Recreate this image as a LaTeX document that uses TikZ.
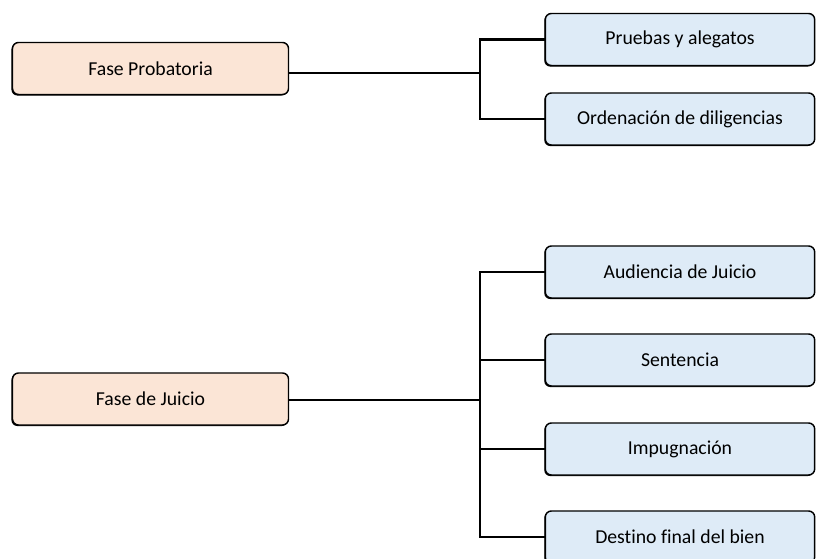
\documentclass[tikz,border=0pt]{standalone}
\usepackage{fontspec}
\setmainfont{Carlito}[Ligatures=NoCommon]
\usepackage{tikz}
\usetikzlibrary{shadows}

\definecolor{fasefill}{HTML}{FBE5D6}
\definecolor{itemfill}{HTML}{DEEBF7}

\tikzset{
  fase/.style={draw, line width=1.1pt, rounded corners=4.5pt, fill=fasefill,
    minimum width=207pt, minimum height=39pt,
    drop shadow={shadow xshift=-0.8pt, shadow yshift=-0.8pt, opacity=1, fill=black},
    font=\fontsize{14.8}{17}\selectfont},
  item/.style={fase, fill=itemfill, minimum width=202pt},
  link/.style={line width=1.6pt}
}

\begin{document}
\begin{tikzpicture}[x=0.75pt, y=-0.75pt]
      \useasboundingbox (0,0) rectangle (817,559);

      % Draw the phases
      \node[fase] (FP) at (150.5,68.5) {Fase Probatoria};
      \node[fase] (FJ) at (150.5,399) {Fase de Juicio};

      % Draw the items
      \node[item] (P1) at (680,39.5) {Pruebas y alegatos};
      \node[item] (P2) at (680,119) {Ordenación de diligencias};
      \node[item] (J1) at (680,272) {Audiencia de Juicio};
      \node[item] (J2) at (680,360) {Sentencia};
      \node[item] (J3) at (680,449) {Impugnación};
      \node[item] (J4) at (680,537) {Destino final del bien};

      % Draw the brackets
      \coordinate (S1) at (480,73);
      \coordinate (S2) at (480,400);
      \draw[link] (FP.east |- S1) -- (S1);
      \draw[link] (P1.west) -| (S1) |- (P2.west);
      \draw[link] (FJ.east |- S2) -- (S2);
      \draw[link] (J1.west) -| (S2) |- (J4.west);
      \draw[link] (S2 |- J2.west) -- (J2.west);
      \draw[link] (S2 |- J3.west) -- (J3.west);
    \end{tikzpicture}
\end{document}
